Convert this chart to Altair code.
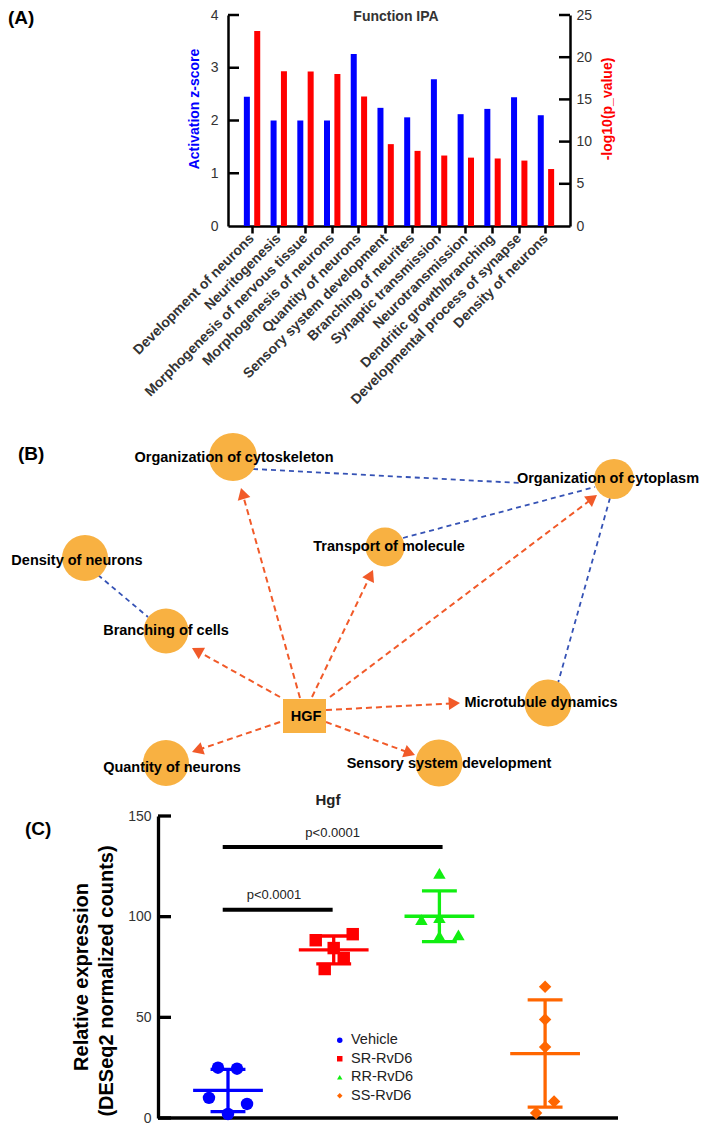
import math
import altair as alt
import pandas as pd

FONT = "Liberation Sans, Arial, Helvetica, sans-serif"
DARK = "#333333"

# ---------------- (A) Function IPA ----------------
functions = ["Development of neurons", "Neuritogenesis", "Morphogenesis of nervous tissue",
             "Morphogenesis of neurons", "Quantity of neurons", "Sensory system development",
             "Branching of neurites", "Synaptic transmission", "Neurotransmission",
             "Dendritic growth/branching", "Developmental process of synapse", "Density of neurons"]
z_scores = [2.45, 2.0, 2.0, 2.0, 3.26, 2.24, 2.06, 2.78, 2.12, 2.22, 2.44, 2.1]
neg_log_p = [23.1, 18.35, 18.3, 18.0, 15.35, 9.7, 8.9, 8.35, 8.1, 8.0, 7.75, 6.75]
z_ticks = [0, 1, 2, 3, 4]
p_ticks = [0, 5, 10, 15, 20, 25]

# ---------------- (B) network ----------------
node_names = ["Organization of cytoskeleton", "Organization of cytoplasm", "Transport of molecule",
              "Density of neurons", "Branching of cells", "HGF", "Microtubule dynamics",
              "Quantity of neurons", "Sensory system development"]
node_kind = ["function", "function", "function", "function", "function", "molecule",
             "function", "function", "function"]
node_x = [233, 614, 385, 85, 166, 304.5, 548, 166, 439]
node_y = [457, 479, 547, 558, 631, 716, 703, 763, 763]
node_diam = [48, 40, 39, 46, 45, 43, 47, 46, 47]
label_x = [234, 608, 389, 77, 166, 306, 541, 172, 449]
label_y = [458, 479, 547, 561, 631, 717, 703, 768, 764]

arrow_x1 = [280, 280, 300, 312, 330, 326, 326]
arrow_y1 = [697, 722, 698, 697, 697, 710, 722]
arrow_x2 = [192, 192, 241, 373, 597, 460, 415]
arrow_y2 = [648, 752, 488, 570, 495, 703, 755]

link_x1 = [253, 403, 610, 98]
link_y1 = [469, 538, 498, 575]
link_x2 = [520, 595, 558, 148]
link_y2 = [483, 487, 683, 617]

# ---------------- (C) Hgf ----------------
groups = ["Vehicle", "SR-RvD6", "RR-RvD6", "SS-RvD6"]
vehicle = [25.0, 24.5, 10.0, 7.0, 2.0]
sr_rvd6 = [88.3, 91.3, 84.4, 79.4, 74.0]
rr_rvd6 = [121.5, 98.5, 99.5, 90.5, 91.0]
ss_rvd6 = [65.2, 48.9, 35.3, 8.2, 2.5]
vehicle_jitter = [-0.095, 0.085, -0.18, 0.18, 0.0]
sr_jitter = [-0.17, 0.18, 0.0, 0.095, -0.085]
rr_jitter = [0.0, -0.17, 0.0, 0.0, 0.18]
ss_jitter = [0.0, 0.0, 0.0, 0.085, -0.085]
sig_x1 = [-0.05, -0.05]
sig_x2 = [0.99, 2.03]
sig_y = [103.4, 134.6]
sig_text_x = [0.435, 0.99]
sig_text_y = [111.0, 141.5]
sig_label = ["p<0.0001", "p<0.0001"]
c_ticks = [0, 50, 100, 150]

group_colors = ["#0000FF", "#FF0000", "#11EE11", "#FF6600"]
group_shapes = ["circle", "square", "triangle-up", "diamond"]

LEFT = 220  # common left extent of every panel (page x of plot origins = 8 + LEFT)


def one(text):
    return pd.DataFrame({"t": [text]})


# ======================= Panel A =======================
WA, HA = 342, 211
dfz = pd.DataFrame({"function": functions, "measure": "z", "value": z_scores})
dfp = pd.DataFrame({"function": functions, "measure": "p", "value": neg_log_p})

xA = alt.X("function:N", sort=functions,
           scale=alt.Scale(paddingInner=0, paddingOuter=0.4),
           axis=alt.Axis(title=None, labelAngle=-45, labelAlign="right", labelBaseline="middle",
                         labelFontSize=14, labelFontWeight="bold", labelColor=DARK, labelLimit=400,
                         labelOverlap=False, labelPadding=3, domainColor="black", domainWidth=2.5,
                         tickColor="black", tickWidth=2.5, tickSize=7, grid=False))
xoffA = alt.XOffset("measure:N", scale=alt.Scale(domain=["z", "p"], paddingInner=0.42, paddingOuter=0.5))

yZ = alt.Y("value:Q", scale=alt.Scale(domain=[0, 4], nice=False),
           axis=alt.Axis(orient="left", title=None, values=z_ticks, ticks=False, tickSize=0,
                         labelPadding=10, labelFontSize=14, labelColor=DARK, domainColor="black",
                         domainWidth=2.5, grid=False))
yP = alt.Y("value:Q", scale=alt.Scale(domain=[0, 25], nice=False),
           axis=alt.Axis(orient="right", title=None, values=p_ticks, ticks=False, tickSize=0,
                         labelPadding=6, labelFontSize=14, labelColor=DARK, domainColor="black",
                         domainWidth=2.5, grid=False))

bars_z = alt.Chart(dfz).mark_bar(color="#0000FF").encode(x=xA, xOffset=xoffA, y=yZ)
ticks_z = alt.Chart(pd.DataFrame({"value": z_ticks[1:]})).mark_rule(
    color="black", strokeWidth=2.5).encode(y=yZ, x=alt.value(0), x2=alt.value(11))
bars_p = alt.Chart(dfp).mark_bar(color="#FF0000").encode(x=xA, xOffset=xoffA, y=yP)
ticks_p = alt.Chart(pd.DataFrame({"value": p_ticks[1:]})).mark_rule(
    color="black", strokeWidth=2.5).encode(y=yP, x=alt.value(WA - 11), x2=alt.value(WA))

titleA = alt.Chart(one("Function IPA")).mark_text(
    fontSize=14, fontWeight="bold", color=DARK, align="center", baseline="middle").encode(
    text="t:N", x=alt.value(168), y=alt.value(1.5))
ytitle_l = alt.Chart(one("Activation z-score")).mark_text(
    fontSize=14, fontWeight="bold", color="#0000FF", angle=270, align="center", baseline="middle").encode(
    text="t:N", x=alt.value(-33), y=alt.value(94))
ytitle_r = alt.Chart(one("-log10(p_value)")).mark_text(
    fontSize=14, fontWeight="bold", color="#FF0000", angle=270, align="center", baseline="middle").encode(
    text="t:N", x=alt.value(380), y=alt.value(94))
tagA = alt.Chart(one("(A)")).mark_text(
    fontSize=19, fontWeight="bold", color="black", align="left", baseline="middle").encode(
    text="t:N", x=alt.value(-LEFT), y=alt.value(2.5))
anchorA = alt.Chart(one("")).mark_rule(opacity=0).encode(
    x=alt.value(-LEFT), y=alt.value(-7), y2=alt.value(414))

panelA = alt.layer(
    alt.layer(bars_z, ticks_z),
    alt.layer(bars_p, ticks_p),
    titleA, ytitle_l, ytitle_r, tagA, anchorA,
).resolve_scale(y="independent").properties(width=WA, height=HA)

# ======================= Panel B =======================
B_X0, B_X1, B_Y0, B_Y1 = 8 + LEFT, 701, 429, 789
WB, HB = B_X1 - B_X0, B_Y1 - B_Y0
xsB = alt.Scale(domain=[B_X0, B_X1], nice=False, zero=False)
ysB = alt.Scale(domain=[B_Y0, B_Y1], nice=False, zero=False, reverse=True)
NODE = "#F8B142"
ORANGE = "#F15A29"
BLUE = "#3552B5"
HEAD = 170

nodes = pd.DataFrame({"name": node_names, "kind": node_kind, "x": node_x, "y": node_y,
                      "d": node_diam, "lx": label_x, "ly": label_y})
nodes["area"] = nodes["d"] ** 2

arrows = pd.DataFrame({"x1": arrow_x1, "y1": arrow_y1, "x2": arrow_x2, "y2": arrow_y2})
half_h = math.sqrt(HEAD) / 2 * math.sqrt(3) / 2
dx = arrows["x2"] - arrows["x1"]
dy = arrows["y2"] - arrows["y1"]
length = (dx ** 2 + dy ** 2) ** 0.5
ux, uy = dx / length, dy / length
arrows["hx"] = arrows["x2"] - ux * half_h
arrows["hy"] = arrows["y2"] - uy * half_h
arrows["ang"] = [(math.degrees(math.atan2(a, -b)) + 360) % 360 for a, b in zip(ux, uy)]

links = pd.DataFrame({"x1": link_x1, "y1": link_y1, "x2": link_x2, "y2": link_y2})

link_layer = alt.Chart(links).mark_rule(color=BLUE, strokeWidth=1.8, strokeDash=[5, 4]).encode(
    x=alt.X("x1:Q", scale=xsB, axis=None), y=alt.Y("y1:Q", scale=ysB, axis=None),
    x2="x2:Q", y2="y2:Q")
arrow_layer = alt.Chart(arrows).mark_rule(color=ORANGE, strokeWidth=2, strokeDash=[6, 4]).encode(
    x=alt.X("x1:Q", scale=xsB, axis=None), y=alt.Y("y1:Q", scale=ysB, axis=None),
    x2="hx:Q", y2="hy:Q")
node_layer = alt.Chart(nodes).mark_point(filled=True, opacity=1, color=NODE, strokeWidth=0).encode(
    x=alt.X("x:Q", scale=xsB, axis=None), y=alt.Y("y:Q", scale=ysB, axis=None),
    shape=alt.Shape("kind:N", scale=alt.Scale(domain=["function", "molecule"],
                                              range=["circle", "M-1,-0.79H1V0.79H-1Z"]), legend=None),
    size=alt.Size("area:Q", scale=None))
head_layer = alt.Chart(arrows).mark_point(shape="triangle-up", filled=True, opacity=1,
                                          color=ORANGE, size=HEAD).encode(
    x=alt.X("hx:Q", scale=xsB, axis=None), y=alt.Y("hy:Q", scale=ysB, axis=None),
    angle=alt.Angle("ang:Q", scale=None))
label_layer = alt.Chart(nodes).mark_text(fontSize=14.5, fontWeight="bold", color="black",
                                         align="center", baseline="middle").encode(
    x=alt.X("lx:Q", scale=xsB, axis=None), y=alt.Y("ly:Q", scale=ysB, axis=None), text="name:N")
tagB = alt.Chart(one("(B)")).mark_text(
    fontSize=19, fontWeight="bold", color="black", align="left", baseline="middle").encode(
    text="t:N", x=alt.value(18 - B_X0), y=alt.value(24.5))

panelB = alt.layer(link_layer, arrow_layer, node_layer, head_layer, label_layer, tagB).properties(
    width=WB, height=HB)

# ======================= Panel C =======================
C_AXIS = 158                # page x of the y axis line
C_RIGHT = 618               # page x where the x axis line ends
GROUP_STEP = 105.7          # px between group centres
WC, HC = C_RIGHT - B_X0, 302
rows = []
for g, vals, jit, col in zip(groups, [vehicle, sr_rvd6, rr_rvd6, ss_rvd6],
                             [vehicle_jitter, sr_jitter, rr_jitter, ss_jitter], group_colors):
    for v, j in zip(vals, jit):
        rows.append({"group": g, "gx": groups.index(g), "jit": j, "value": v, "col": col})
dfC = pd.DataFrame(rows)
dfC["xp"] = dfC["gx"] + dfC["jit"]

AX_OFF = B_X0 - C_AXIS
xsC = alt.Scale(domain=[0, WC / GROUP_STEP], nice=False, zero=False)
ysC = alt.Scale(domain=[0, 150], nice=False)
axXC = alt.Axis(title=None, labels=False, ticks=False, domain=False, grid=False)
axYC = alt.Axis(title=None, values=c_ticks, ticks=False, tickSize=0, labelPadding=7, labelFontSize=14,
                labelColor=DARK, domainColor="black", domainWidth=3.3, grid=False, offset=AX_OFF)


def XC(f):
    return alt.X(f, scale=xsC, axis=axXC)


def YC(f):
    return alt.Y(f, scale=ysC, axis=axYC)


stats = alt.Chart(dfC).transform_aggregate(
    mean="mean(value)", sd="stdev(value)", groupby=["group", "gx", "col"]
).transform_calculate(
    lo="datum.mean - datum.sd", hi="datum.mean + datum.sd",
    ml="datum.gx - 0.33", mr="datum.gx + 0.33",
    cl="datum.gx - 0.165", cr="datum.gx + 0.165")
colC = alt.Color("col:N", scale=None)
vbar = stats.mark_rule(strokeWidth=3.3).encode(x=XC("gx:Q"), y=YC("lo:Q"), y2="hi:Q", color=colC)
meanline = stats.mark_rule(strokeWidth=3.3).encode(x=XC("ml:Q"), x2="mr:Q", y=YC("mean:Q"), color=colC)
cap_hi = stats.mark_rule(strokeWidth=3.3).encode(x=XC("cl:Q"), x2="cr:Q", y=YC("hi:Q"), color=colC)
cap_lo = stats.mark_rule(strokeWidth=3.3).encode(x=XC("cl:Q"), x2="cr:Q", y=YC("lo:Q"), color=colC)

legC = alt.Legend(title=None, orient="none", legendX=339.3 - B_X0 - 6.8, legendY=217, symbolSize=30,
                  labelFontSize=14.5, labelOffset=4, rowPadding=3.5, padding=0, labelColor="#222222")
points = alt.Chart(dfC).mark_point(filled=True, opacity=1, size=155).encode(
    x=XC("xp:Q"), y=YC("value:Q"),
    color=alt.Color("group:N", scale=alt.Scale(domain=groups, range=group_colors), legend=legC),
    shape=alt.Shape("group:N", scale=alt.Scale(domain=groups, range=group_shapes), legend=legC))

sig = pd.DataFrame({"x1": sig_x1, "x2": sig_x2, "y": sig_y, "tx": sig_text_x, "ty": sig_text_y,
                    "label": sig_label})
sig_bars = alt.Chart(sig).mark_rule(color="black", strokeWidth=4).encode(
    x=XC("x1:Q"), x2="x2:Q", y=YC("y:Q"))
sig_text = alt.Chart(sig).mark_text(fontSize=13, color="#222222", baseline="middle").encode(
    x=XC("tx:Q"), y=YC("ty:Q"), text="label:N")

ticks_c = alt.Chart(pd.DataFrame({"value": c_ticks})).mark_rule(color="black", strokeWidth=3.3).encode(
    y=YC("value:Q"), x=alt.value(-AX_OFF), x2=alt.value(-AX_OFF + 13))
baseline_c = alt.Chart(one("")).mark_rule(color="black", strokeWidth=3.3).encode(
    x=alt.value(-AX_OFF), x2=alt.value(WC), y=alt.value(HC))

titleC = alt.Chart(one("Hgf")).mark_text(fontSize=15, fontWeight="bold", color="#222222",
                                         baseline="middle").encode(
    text="t:N", x=alt.value(328 - B_X0), y=alt.value(-16))
ytitle1 = alt.Chart(one("Relative expression")).mark_text(
    fontSize=20, fontWeight="bold", color="black", angle=270, baseline="middle").encode(
    text="t:N", x=alt.value(82 - B_X0), y=alt.value(161))
ytitle2 = alt.Chart(one("(DESeq2 normalized counts)")).mark_text(
    fontSize=20, fontWeight="bold", color="black", angle=270, baseline="middle").encode(
    text="t:N", x=alt.value(107 - B_X0), y=alt.value(165))
tagC = alt.Chart(one("(C)")).mark_text(
    fontSize=19, fontWeight="bold", color="black", align="left", baseline="middle").encode(
    text="t:N", x=alt.value(25 - B_X0), y=alt.value(13))
anchorC = alt.Chart(one("")).mark_rule(opacity=0).encode(
    x=alt.value(-LEFT), y=alt.value(-27), y2=alt.value(0))

panelC = alt.layer(ticks_c, baseline_c, sig_bars, sig_text, vbar, meanline, cap_hi, cap_lo, points,
                   titleC, ytitle1, ytitle2, tagC, anchorC).properties(width=WC, height=HC)

chart = alt.vconcat(panelA, panelB, panelC, spacing=0).resolve_scale(
    color="independent", shape="independent", size="independent"
).properties(padding=0).configure(font=FONT).configure_view(stroke=None)

chart.save("out.html", embed_options={"renderer": "svg", "actions": False})
